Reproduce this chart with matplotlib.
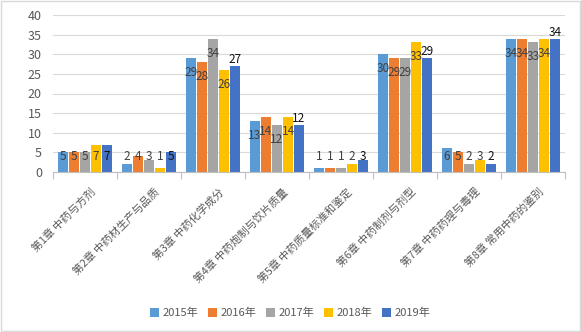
import numpy as np
import matplotlib
matplotlib.use('Agg')
import matplotlib.pyplot as plt
from matplotlib.transforms import ScaledTranslation

plt.rcParams['font.family'] = ['Noto Sans CJK SC', 'DejaVu Sans']

chapters = ['第1章 中药与方剂', '第2章 中药材生产与品质', '第3章 中药化学成分',
            '第4章 中药炮制与饮片质量', '第5章 中药质量标准和鉴定', '第6章 中药制剂与剂型',
            '第7章 中药药理与毒理', '第8章 常用中药的鉴别']
years = ['2015年', '2016年', '2017年', '2018年', '2019年']
v2015 = [5, 2, 29, 13, 1, 30, 6, 34]
v2016 = [5, 4, 28, 14, 1, 29, 5, 34]
v2017 = [5, 3, 34, 12, 1, 29, 2, 33]
v2018 = [7, 1, 26, 14, 2, 33, 3, 34]
v2019 = [7, 5, 27, 12, 3, 29, 2, 34]
series = [v2015, v2016, v2017, v2018, v2019]
colors = ['#5B9BD5', '#ED7D31', '#A5A5A5', '#FFC000', '#4472C4']

fig = plt.figure(figsize=(5.81, 3.32), dpi=100)
ax = fig.add_axes([53/581, 1-172/332, 512/581, 157/332])

x = np.arange(len(chapters))
w = 0.156
step = 0.172
for i, (vals, c, lab) in enumerate(zip(series, colors, years)):
    pos = x + (i - 2) * step
    ax.bar(pos, vals, w, color=c, label=lab, zorder=2)
    for p, v in zip(pos, vals):
        if i < 4:
            y = max(v - 3.7, 3.9)
            col = '#404040'
        else:
            y = v + 1.6 if v >= 10 else 4.0
            col = '#111111'
        ax.text(p, y, str(v), ha='center', va='center', fontsize=8.5, color=col, zorder=3)

ax.set_xlim(-0.5, len(chapters) - 0.5)
ax.set_ylim(0, 40)
ax.set_yticks(range(0, 41, 5))
ax.grid(axis='y', color='#D9D9D9', linewidth=0.8, zorder=0)
ax.set_axisbelow(True)
for s in ['left', 'right', 'top']:
    ax.spines[s].set_visible(False)
ax.spines['bottom'].set_color('#BFBFBF')
ax.tick_params(axis='y', length=0, labelsize=9, labelcolor='#595959', pad=8)
ax.set_xticks(np.arange(len(chapters) + 1) - 0.5)
ax.set_xticklabels([])
ax.tick_params(axis='x', length=5, color='#BFBFBF')

# rotated chapter names, right end just past each group centre
for i, name in enumerate(chapters):
    tr = ax.get_xaxis_transform() + ScaledTranslation(9/100, -18/100, fig.dpi_scale_trans)
    ax.text(i, 0, name, transform=tr, rotation=45, rotation_mode='anchor',
            ha='right', va='center', fontsize=7.8, color='#595959')

fig.legend(loc='center', bbox_to_anchor=(290/581, 1-313/332), ncol=5, frameon=False,
           fontsize=8, handlelength=0.8, handleheight=0.8, handletextpad=0.3,
           columnspacing=0.9, labelcolor='#595959')

fig.patches.append(plt.Rectangle((0.002, 0.004), 0.996, 0.992, transform=fig.transFigure,
                                 fill=False, edgecolor='#D9D9D9', linewidth=1))
fig.savefig('out.png', dpi=100)
